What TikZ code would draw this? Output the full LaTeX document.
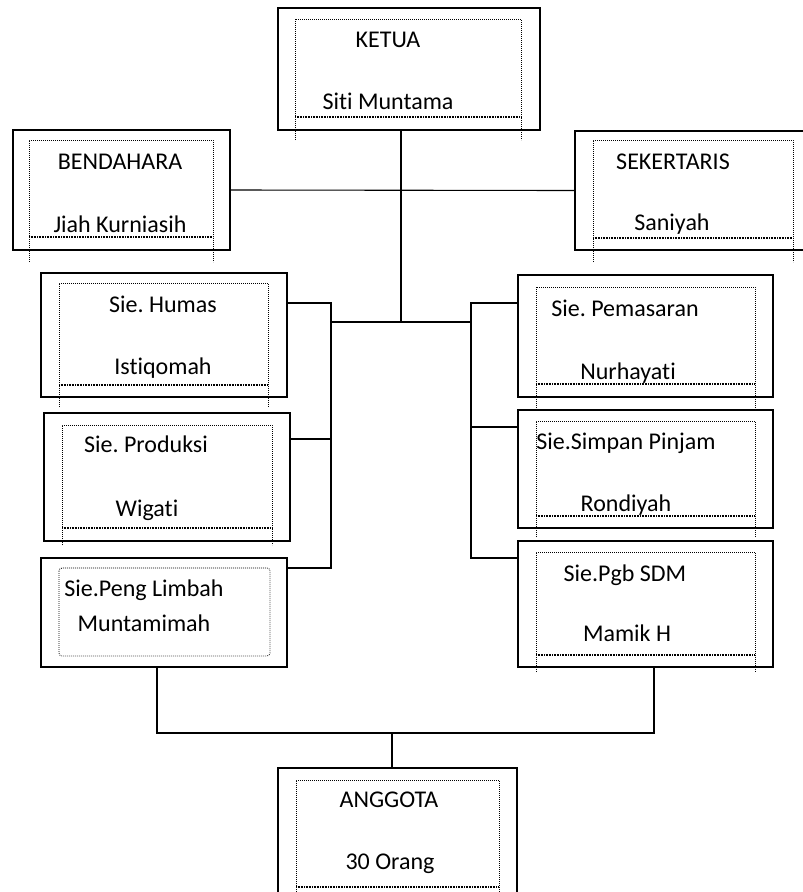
\documentclass[tikz,border=0pt]{standalone}
\usepackage{fontspec}
\setmainfont[Ligatures=NoCommon]{Carlito}
\usepackage{tikz}
\usetikzlibrary{arrows,shapes}
\frenchspacing

\begin{document}
\begin{tikzpicture}[x=1pt, y=-1pt]
\tikzstyle{unit} = [rectangle, draw = black, line width=1.2pt, inner sep=0pt]
\tikzstyle{lbl} = [anchor=base, inner sep=0pt, font=\fontsize{24}{28}\selectfont]
\tikzstyle{link} = [draw = black, line width=1.1pt]
\tikzstyle{frame} = [draw = black, line width=0.8pt, dash pattern=on 0.8pt off 1.2pt]
\tikzstyle{framebase} = [draw = black, line width=1.6pt, dash pattern=on 0.8pt off 0.8pt]
\fill[white] (0,0) rectangle (803,892);
\useasboundingbox (0,0) rectangle (803,892);

% boxes
\node (ketua) [unit, minimum width=262pt, minimum height=122pt] at (409,69) {};
\node (bendahara) [unit, minimum width=217pt, minimum height=120pt] at (121.5,190) {};
\node (sekertaris) [unit, minimum width=231pt, minimum height=119pt] at (690.5,190.5) {};
\node (humas) [unit, minimum width=246pt, minimum height=124pt] at (164,335) {};
\node (pemasaran) [unit, minimum width=255pt, minimum height=122pt] at (645.5,336) {};
\node (produksi) [unit, minimum width=246pt, minimum height=128pt] at (167,477) {};
\node (limbah) [unit, minimum width=246pt, minimum height=109pt] at (164,612.5) {};
\node (simpan) [unit, minimum width=255pt, minimum height=118pt] at (645.5,469) {};
\node (pgb) [unit, minimum width=255pt, minimum height=126pt] at (645.5,604) {};
\node (anggota) [unit, minimum width=239pt, minimum height=132pt] at (397.5,834) {};

% dotted text frames
\draw [frame] (295,140) -- (295,19) -- (521,19) -- (521,140);
\draw [framebase] (295,117) -- (521,117);
\draw [frame] (29,262) -- (29,140) -- (213,140) -- (213,262);
\draw [framebase] (29,237) -- (213,237);
\draw [frame] (593,262) -- (593,140) -- (793,140) -- (793,262);
\draw [framebase] (593,238) -- (793,238);
\draw [frame] (59,407) -- (59,283) -- (268,283) -- (268,407);
\draw [framebase] (59,385) -- (268,385);
\draw [frame] (536,410) -- (536,287) -- (755,287) -- (755,410);
\draw [framebase] (536,384) -- (755,384);
\draw [frame] (62,545) -- (62,425) -- (272,425) -- (272,545);
\draw [framebase] (62,528) -- (272,528);
\draw [frame, rounded corners=3pt] (59,568) rectangle (270,656);
\draw [frame] (536,537) -- (536,421) -- (755,421) -- (755,537);
\draw [framebase] (536,516) -- (755,516);
\draw [frame] (536,672) -- (536,552) -- (755,552) -- (755,672);
\draw [framebase] (536,655) -- (755,655);
\draw [frame] (296,892) -- (296,780) -- (499,780) -- (499,892);
\draw [framebase] (296,887) -- (499,887);

% texts
\node (ketuaT) [lbl] at (388,47) {KETUA};
\node (ketuaN) [lbl] at (388,109) {Siti Muntama};
\node (bendaharaT) [lbl] at (120,169) {BENDAHARA};
\node (bendaharaN) [lbl] at (120,232) {Jiah Kurniasih};
\node (sekertarisT) [lbl] at (673,169) {SEKERTARIS};
\node (sekertarisN) [lbl] at (672,230) {Saniyah};
\node (humasT) [lbl] at (163,312) {Sie. Humas};
\node (humasN) [lbl] at (163,374) {Istiqomah};
\node (pemasaranT) [lbl] at (625,316) {Sie. Pemasaran};
\node (pemasaranN) [lbl] at (628,379) {Nurhayati};
\node (produksiT) [lbl] at (146,452) {Sie. Produksi};
\node (produksiN) [lbl] at (147,516) {Wigati};
\node (limbahT) [lbl] at (144,596) {Sie.Peng Limbah};
\node (limbahN) [lbl] at (144,631) {Muntamimah};
\node (simpanT) [lbl] at (626,449) {Sie.Simpan Pinjam};
\node (simpanN) [lbl] at (626,511) {Rondiyah};
\node (pgbT) [lbl] at (625,581) {Sie.Pgb SDM};
\node (pgbN) [lbl] at (627,641) {Mamik H};
\node (anggotaT) [lbl] at (389,807) {ANGGOTA};
\node (anggotaN) [lbl] at (390,869) {30 Orang};

% junctions
\coordinate (hub) at (401,322);
\coordinate (lhub) at (331,322);
\coordinate (rhub) at (471,322);
\coordinate (ltop) at (331,303);
\coordinate (lmid) at (331,439);
\coordinate (lbot) at (331,568);
\coordinate (rtop) at (471,303);
\coordinate (rmid) at (471,427);
\coordinate (rbot) at (471,558);
\coordinate (bl) at (157,733);
\coordinate (bm) at (392,733);
\coordinate (br) at (654,733);

% lines
\draw [link] (hub |- ketua.south) -- (hub);
\draw [link] (bendahara.east) -- (sekertaris.west);
\draw [link] (lhub) -- (rhub);
\draw [link] (humas.east |- ltop) -- (ltop) -- (lbot) -- (limbah.east |- lbot);
\draw [link] (produksi.east |- lmid) -- (lmid);
\draw [link] (pemasaran.west |- rtop) -- (rtop) -- (rbot) -- (pgb.west |- rbot);
\draw [link] (rmid) -- (simpan.west |- rmid);
\draw [link] (bl |- limbah.south) -- (bl) -- (br) -- (br |- pgb.south);
\draw [link] (bm) -- (bm |- anggota.north);
\end{tikzpicture}
\end{document}
